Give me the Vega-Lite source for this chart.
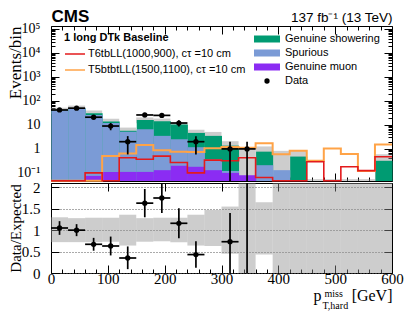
{
  "$schema": "https://vega.github.io/schema/vega-lite/v6.json",
  "padding": {"left": 5, "top": 6, "right": 0, "bottom": 0},
  "background": "white",
  "bounds": "flush",
  "spacing": 2,
  "config": {
    "view": {"stroke": "black", "strokeWidth": 1},
    "axis": {"domain": false, "grid": false, "labelFont": "Liberation Serif", "labelFontSize": 15, "labelColor": "black", "titleFont": "Liberation Serif", "titleFontSize": 15, "titleColor": "black", "titleFontWeight": "normal", "tickColor": "black", "tickWidth": 1, "labelFlush": false, "labelOverlap": false, "labelBound": false},
    "legend": {"labelFont": "Liberation Sans", "labelFontSize": 11, "labelColor": "black", "titleColor": "black"}
  },
  "datasets": {
    "bins": [
      {"lo": 0, "hi": 30, "c": 15, "N": 42, "dlo": 35.5, "dhi": 48.5, "band_lo": 28.8, "band_hi": 52, "r": 1.05, "rlo": 0.89, "rhi": 1.21, "rb_lo": 0.72, "rb_hi": 1.3},
      {"lo": 30, "hi": 60, "c": 45, "N": 50, "dlo": 42.9, "dhi": 57.1, "band_lo": 36, "band_hi": 64, "r": 1.0, "rlo": 0.86, "rhi": 1.14, "rb_lo": 0.72, "rb_hi": 1.28},
      {"lo": 60, "hi": 90, "c": 75, "N": 21, "dlo": 16.4, "dhi": 25.6, "band_lo": 22.3, "band_hi": 40, "r": 0.67, "rlo": 0.52, "rhi": 0.82, "rb_lo": 0.72, "rb_hi": 1.29},
      {"lo": 90, "hi": 120, "c": 105, "N": 9, "dlo": 6, "dhi": 12, "band_lo": 10.2, "band_hi": 18, "r": 0.63, "rlo": 0.41, "rhi": 0.85, "rb_lo": 0.73, "rb_hi": 1.29},
      {"lo": 120, "hi": 150, "c": 135, "N": 2, "dlo": 0.59, "dhi": 3.41, "band_lo": 3.65, "band_hi": 7.75, "r": 0.35, "rlo": 0.09, "rhi": 0.62, "rb_lo": 0.64, "rb_hi": 1.36},
      {"lo": 150, "hi": 180, "c": 165, "N": 26, "dlo": 20.9, "dhi": 31.1, "band_lo": 11.7, "band_hi": 20.5, "r": 1.63, "rlo": 1.3, "rhi": 1.96, "rb_lo": 0.73, "rb_hi": 1.28},
      {"lo": 180, "hi": 210, "c": 195, "N": 25, "dlo": 20, "dhi": 30, "band_lo": 10.6, "band_hi": 18.4, "r": 1.75, "rlo": 1.4, "rhi": 2.1, "rb_lo": 0.74, "rb_hi": 1.29},
      {"lo": 210, "hi": 240, "c": 225, "N": 12, "dlo": 8.5, "dhi": 15.5, "band_lo": 7.4, "band_hi": 13.3, "r": 1.16, "rlo": 0.81, "rhi": 1.51, "rb_lo": 0.72, "rb_hi": 1.29},
      {"lo": 240, "hi": 270, "c": 255, "N": 2, "dlo": 0.59, "dhi": 3.41, "band_lo": 3.0, "band_hi": 6.3, "r": 0.43, "rlo": 0.12, "rhi": 0.74, "rb_lo": 0.64, "rb_hi": 1.36},
      {"lo": 270, "hi": 300, "c": 285, "band_lo": 2.2, "band_hi": 5.1, "rb_lo": 0.63, "rb_hi": 1.47},
      {"lo": 300, "hi": 330, "c": 315, "N": 1, "dlo": 0.046, "dhi": 2, "band_lo": 0.62, "band_hi": 2.1, "r": 0.73, "rlo": 0, "rhi": 1.4, "rb_lo": 0.45, "rb_hi": 1.55},
      {"lo": 330, "hi": 360, "c": 345, "N": 1, "dlo": 0.046, "dhi": 2, "band_lo": 0.046, "band_hi": 1.1, "r": 12.5, "rlo": 0, "rhi": 25, "rb_lo": 0, "rb_hi": 3},
      {"lo": 360, "hi": 390, "c": 375, "band_lo": 0.33, "band_hi": 1.27, "rb_lo": 0.43, "rb_hi": 1.65},
      {"lo": 390, "hi": 420, "c": 405, "band_lo": 0.046, "band_hi": 0.83, "rb_lo": 0, "rb_hi": 3},
      {"lo": 420, "hi": 450, "c": 435, "band_lo": 0.046, "band_hi": 0.83, "rb_lo": 0, "rb_hi": 3},
      {"lo": 450, "hi": 480, "c": 465, "band_lo": 0.046, "band_hi": 0.055, "rb_lo": 0, "rb_hi": 3},
      {"lo": 480, "hi": 510, "c": 495, "band_lo": 0.046, "band_hi": 0.055, "rb_lo": 0, "rb_hi": 3},
      {"lo": 510, "hi": 540, "c": 525, "band_lo": 0.046, "band_hi": 0.055, "rb_lo": 0, "rb_hi": 3},
      {"lo": 540, "hi": 570, "c": 555, "band_lo": 0.046, "band_hi": 0.055, "rb_lo": 0, "rb_hi": 3},
      {"lo": 570, "hi": 600, "c": 585, "band_lo": 0.046, "band_hi": 0.6, "rb_lo": 0, "rb_hi": 3}
    ],
    "stack": [
      {"lo": 0, "hi": 30, "proc": "Spurious", "rank": 2, "n": 39.5},
      {"lo": 0, "hi": 30, "proc": "Genuine showering", "rank": 3, "n": 0.5},
      {"lo": 30, "hi": 60, "proc": "Spurious", "rank": 2, "n": 49.5},
      {"lo": 30, "hi": 60, "proc": "Genuine showering", "rank": 3, "n": 0.5},
      {"lo": 60, "hi": 90, "proc": "Genuine muon", "rank": 1, "n": 0.075},
      {"lo": 60, "hi": 90, "proc": "Spurious", "rank": 2, "n": 25.9},
      {"lo": 60, "hi": 90, "proc": "Genuine showering", "rank": 3, "n": 5},
      {"lo": 90, "hi": 120, "proc": "Genuine muon", "rank": 1, "n": 0.11},
      {"lo": 90, "hi": 120, "proc": "Spurious", "rank": 2, "n": 11.9},
      {"lo": 90, "hi": 120, "proc": "Genuine showering", "rank": 3, "n": 2},
      {"lo": 120, "hi": 150, "proc": "Genuine muon", "rank": 1, "n": 0.11},
      {"lo": 120, "hi": 150, "proc": "Spurious", "rank": 2, "n": 5.1},
      {"lo": 120, "hi": 150, "proc": "Genuine showering", "rank": 3, "n": 0.5},
      {"lo": 150, "hi": 180, "proc": "Genuine muon", "rank": 1, "n": 0.11},
      {"lo": 150, "hi": 180, "proc": "Spurious", "rank": 2, "n": 6.5},
      {"lo": 150, "hi": 180, "proc": "Genuine showering", "rank": 3, "n": 9.4},
      {"lo": 180, "hi": 210, "proc": "Genuine muon", "rank": 1, "n": 0.13},
      {"lo": 180, "hi": 210, "proc": "Spurious", "rank": 2, "n": 3.37},
      {"lo": 180, "hi": 210, "proc": "Genuine showering", "rank": 3, "n": 10.8},
      {"lo": 210, "hi": 240, "proc": "Genuine muon", "rank": 1, "n": 0.2},
      {"lo": 210, "hi": 240, "proc": "Spurious", "rank": 2, "n": 2.3},
      {"lo": 210, "hi": 240, "proc": "Genuine showering", "rank": 3, "n": 7.8},
      {"lo": 240, "hi": 270, "proc": "Genuine muon", "rank": 1, "n": 0.18},
      {"lo": 240, "hi": 270, "proc": "Spurious", "rank": 2, "n": 1.0},
      {"lo": 240, "hi": 270, "proc": "Genuine showering", "rank": 3, "n": 3.47},
      {"lo": 270, "hi": 300, "proc": "Genuine muon", "rank": 1, "n": 0.13},
      {"lo": 270, "hi": 300, "proc": "Spurious", "rank": 2, "n": 0.24},
      {"lo": 270, "hi": 300, "proc": "Genuine showering", "rank": 3, "n": 3.13},
      {"lo": 300, "hi": 330, "proc": "Genuine muon", "rank": 1, "n": 0.1},
      {"lo": 300, "hi": 330, "proc": "Spurious", "rank": 2, "n": 0.02},
      {"lo": 300, "hi": 330, "proc": "Genuine showering", "rank": 3, "n": 1.25},
      {"lo": 330, "hi": 360, "proc": "Genuine muon", "rank": 1, "n": 0.08},
      {"lo": 360, "hi": 390, "proc": "Spurious", "rank": 2, "n": 0.21},
      {"lo": 360, "hi": 390, "proc": "Genuine showering", "rank": 3, "n": 0.56},
      {"lo": 390, "hi": 420, "proc": "Spurious", "rank": 2, "n": 0.13},
      {"lo": 420, "hi": 450, "proc": "Genuine showering", "rank": 3, "n": 0.48},
      {"lo": 570, "hi": 600, "proc": "Genuine showering", "rank": 3, "n": 0.32}
    ],
    "lines": [
      {"x": 0, "s1": 0.047, "s2": 0.047},
      {"x": 30, "s1": 0.047, "s2": 0.047},
      {"x": 60, "s1": 0.1, "s2": 0.047},
      {"x": 90, "s1": 0.047, "s2": 0.51},
      {"x": 120, "s1": 0.43, "s2": 0.64},
      {"x": 150, "s1": 0.37, "s2": 1.47},
      {"x": 180, "s1": 0.5, "s2": 0.88},
      {"x": 210, "s1": 0.27, "s2": 0.77},
      {"x": 240, "s1": 0.1, "s2": 0.75},
      {"x": 270, "s1": 0.34, "s2": 1.07},
      {"x": 300, "s1": 0.32, "s2": 1.2},
      {"x": 330, "s1": 0.43, "s2": 1.13},
      {"x": 360, "s1": 0.064, "s2": 1.73},
      {"x": 390, "s1": 0.047, "s2": 0.6},
      {"x": 420, "s1": 0.047, "s2": 0.83},
      {"x": 450, "s1": 0.29, "s2": 0.32},
      {"x": 480, "s1": 0.047, "s2": 1.05},
      {"x": 510, "s1": 0.18, "s2": 0.62},
      {"x": 540, "s1": 0.125, "s2": 0.12},
      {"x": 570, "s1": 0.47, "s2": 1.52},
      {"x": 600, "s1": 0.47, "s2": 1.52}
    ]
  },
  "vconcat": [
    {
      "width": 341,
      "height": 155,
      "resolve": {"axis": {"x": "independent", "y": "independent"}},
      "layer": [
        {
          "data": {"name": "bins"},
          "mark": {"type": "rect", "fill": "#909090", "opacity": 0.45},
          "encoding": {
            "x": {"field": "lo", "type": "quantitative", "scale": {"domain": [0, 600], "nice": false, "zero": false}, "axis": {"orient": "bottom", "values": [0, 100, 200, 300, 400, 500, 600], "labels": false, "tickSize": -8, "title": null}},
            "x2": {"field": "hi"},
            "y": {"field": "band_lo", "type": "quantitative", "scale": {"type": "log", "domain": [0.046, 133000], "nice": false}, "axis": {"orient": "left", "values": [0.1, 1, 10, 100, 1000, 10000, 100000], "tickSize": -8, "labelPadding": 19, "labelFontSize": 14, "labelExpr": "datum.value < 0.5 ? '10⁻¹' : datum.value < 5 ? '1' : datum.value < 50 ? '10' : datum.value < 500 ? '10²' : datum.value < 5000 ? '10³' : datum.value < 50000 ? '10⁴' : '10⁵'", "title": "Events/bin", "titleFontSize": 17, "titleAnchor": "end", "titleX": -31, "titleBaseline": "alphabetic", "titleAngle": -90}},
            "y2": {"field": "band_hi"}
          }
        },
        {
          "data": {"name": "stack"},
          "transform": [{"stack": "n", "groupby": ["lo"], "sort": [{"field": "rank", "order": "ascending"}], "as": ["n0", "n1"]}, {"filter": {"field": "proc", "equal": "Genuine showering"}}],
          "mark": {"type": "bar", "binSpacing": 0},
          "encoding": {
            "x": {"field": "lo", "type": "quantitative", "bin": "binned", "scale": {"domain": [0, 600], "nice": false, "zero": false}, "axis": {"orient": "bottom", "values": [20, 40, 60, 80, 120, 140, 160, 180, 220, 240, 260, 280, 320, 340, 360, 380, 420, 440, 460, 480, 520, 540, 560, 580], "labels": false, "tickSize": -4, "title": null}},
            "x2": {"field": "hi"},
            "y": {"field": "n1", "type": "quantitative", "stack": null, "scale": {"type": "log", "domain": [0.046, 133000], "nice": false}, "axis": {"orient": "left", "values": [0.05, 0.06, 0.07, 0.08, 0.09, 0.2, 0.3, 0.4, 0.5, 0.6, 0.7, 0.8, 0.9, 2, 3, 4, 5, 6, 7, 8, 9, 20, 30, 40, 50, 60, 70, 80, 90, 200, 300, 400, 500, 600, 700, 800, 900, 2000, 3000, 4000, 5000, 6000, 7000, 8000, 9000, 20000, 30000, 40000, 50000, 60000, 70000, 80000, 90000], "labels": false, "tickSize": -4, "title": null}},
            "fill": {"field": "proc", "type": "nominal", "scale": {"domain": ["Genuine showering", "Spurious", "Genuine muon", "Data"], "range": ["#009b72", "#7b9bd6", "#8b2cf3", "black"]}, "legend": {"orient": "none", "legendX": 203, "legendY": 6, "title": null, "padding": 0, "symbolType": "M-1,-0.27H1V0.27H-1Z", "symbolSize": 676, "clipHeight": 14, "rowPadding": 0, "labelOffset": 5, "labelFont": "Liberation Sans", "labelFontSize": 11, "symbolStrokeWidth": 0, "symbolOpacity": 1, "encode": {"symbols": {"update": {"shape": {"signal": "datum.value === 'Data' ? 'circle' : 'M-1,-0.27H1V0.27H-1Z'"}, "size": {"signal": "datum.value === 'Data' ? 28 : 676"}}}}}}
          }
        },
        {
          "data": {"name": "stack"},
          "transform": [{"stack": "n", "groupby": ["lo"], "sort": [{"field": "rank", "order": "ascending"}], "as": ["n0", "n1"]}, {"filter": {"field": "proc", "equal": "Spurious"}}],
          "mark": {"type": "bar", "binSpacing": 0},
          "encoding": {
            "x": {"field": "lo", "type": "quantitative", "bin": "binned", "scale": {"domain": [0, 600], "nice": false, "zero": false}, "axis": {"orient": "top", "values": [0, 100, 200, 300, 400, 500, 600], "labels": false, "tickSize": -8, "title": "CMS", "titleFont": "Liberation Sans", "titleFontWeight": "bold", "titleFontSize": 17, "titleX": 0, "titleY": -5, "titleAlign": "left", "titleBaseline": "alphabetic"}},
            "x2": {"field": "hi"},
            "y": {"field": "n1", "type": "quantitative", "stack": null, "scale": {"type": "log", "domain": [0.046, 133000], "nice": false}, "axis": {"orient": "right", "values": [0.1, 1, 10, 100, 1000, 10000, 100000], "labels": false, "tickSize": -8, "title": null}},
            "fill": {"field": "proc", "type": "nominal", "scale": {"domain": ["Genuine showering", "Spurious", "Genuine muon", "Data"], "range": ["#009b72", "#7b9bd6", "#8b2cf3", "black"]}, "legend": {"orient": "none", "legendX": 203, "legendY": 6, "title": null, "padding": 0, "symbolType": "M-1,-0.27H1V0.27H-1Z", "symbolSize": 676, "clipHeight": 14, "rowPadding": 0, "labelOffset": 5, "labelFont": "Liberation Sans", "labelFontSize": 11, "symbolStrokeWidth": 0, "symbolOpacity": 1, "encode": {"symbols": {"update": {"shape": {"signal": "datum.value === 'Data' ? 'circle' : 'M-1,-0.27H1V0.27H-1Z'"}, "size": {"signal": "datum.value === 'Data' ? 28 : 676"}}}}}}
          }
        },
        {
          "data": {"name": "stack"},
          "transform": [{"stack": "n", "groupby": ["lo"], "sort": [{"field": "rank", "order": "ascending"}], "as": ["n0", "n1"]}, {"filter": {"field": "proc", "equal": "Genuine muon"}}],
          "mark": {"type": "bar", "binSpacing": 0},
          "encoding": {
            "x": {"field": "lo", "type": "quantitative", "bin": "binned", "scale": {"domain": [0, 600], "nice": false, "zero": false}, "axis": {"orient": "top", "values": [20, 40, 60, 80, 120, 140, 160, 180, 220, 240, 260, 280, 320, 340, 360, 380, 420, 440, 460, 480, 520, 540, 560, 580], "labels": false, "tickSize": -4, "title": "137 fb⁻¹ (13 TeV)", "titleFont": "Liberation Sans", "titleFontWeight": "normal", "titleFontSize": 13.5, "titleX": 341, "titleY": -5, "titleAlign": "right", "titleBaseline": "alphabetic"}},
            "x2": {"field": "hi"},
            "y": {"field": "n1", "type": "quantitative", "stack": null, "scale": {"type": "log", "domain": [0.046, 133000], "nice": false}, "axis": {"orient": "right", "values": [0.05, 0.06, 0.07, 0.08, 0.09, 0.2, 0.3, 0.4, 0.5, 0.6, 0.7, 0.8, 0.9, 2, 3, 4, 5, 6, 7, 8, 9, 20, 30, 40, 50, 60, 70, 80, 90, 200, 300, 400, 500, 600, 700, 800, 900, 2000, 3000, 4000, 5000, 6000, 7000, 8000, 9000, 20000, 30000, 40000, 50000, 60000, 70000, 80000, 90000], "labels": false, "tickSize": -4, "title": null}},
            "fill": {"field": "proc", "type": "nominal", "scale": {"domain": ["Genuine showering", "Spurious", "Genuine muon", "Data"], "range": ["#009b72", "#7b9bd6", "#8b2cf3", "black"]}, "legend": {"orient": "none", "legendX": 203, "legendY": 6, "title": null, "padding": 0, "symbolType": "M-1,-0.27H1V0.27H-1Z", "symbolSize": 676, "clipHeight": 14, "rowPadding": 0, "labelOffset": 5, "labelFont": "Liberation Sans", "labelFontSize": 11, "symbolStrokeWidth": 0, "symbolOpacity": 1, "encode": {"symbols": {"update": {"shape": {"signal": "datum.value === 'Data' ? 'circle' : 'M-1,-0.27H1V0.27H-1Z'"}, "size": {"signal": "datum.value === 'Data' ? 28 : 676"}}}}}}
          }
        },
        {
          "data": {"name": "lines"},
          "mark": {"type": "line", "interpolate": "step-after", "strokeWidth": 2},
          "encoding": {
            "x": {"field": "x", "type": "quantitative", "scale": {"domain": [0, 600], "nice": false, "zero": false}, "axis": null},
            "y": {"field": "s2", "type": "quantitative", "scale": {"type": "log", "domain": [0.046, 133000], "nice": false}, "axis": null},
            "stroke": {"datum": "T5btbtLL(1500,1100), cτ =10 cm", "type": "nominal", "scale": {"domain": ["T6tbLL(1000,900), cτ =10 cm", "T5btbtLL(1500,1100), cτ =10 cm"], "range": ["#e31a1c", "#ffa347"]}, "legend": {"orient": "none", "legendX": 13, "legendY": 6, "title": "1 long DTk Baseline", "titleFont": "Liberation Sans", "titleFontWeight": "bold", "titleFontSize": 11, "titlePadding": 3, "padding": 0, "symbolType": "stroke", "symbolSize": 400, "symbolStrokeWidth": 1.6, "clipHeight": 16, "rowPadding": 0, "labelOffset": 2, "labelFont": "Liberation Sans", "labelFontSize": 11}}
          }
        },
        {
          "data": {"name": "lines"},
          "mark": {"type": "line", "interpolate": "step-after", "strokeWidth": 1.6},
          "encoding": {
            "x": {"field": "x", "type": "quantitative", "scale": {"domain": [0, 600], "nice": false, "zero": false}, "axis": null},
            "y": {"field": "s1", "type": "quantitative", "scale": {"type": "log", "domain": [0.046, 133000], "nice": false}, "axis": null},
            "stroke": {"datum": "T6tbLL(1000,900), cτ =10 cm", "type": "nominal", "scale": {"domain": ["T6tbLL(1000,900), cτ =10 cm", "T5btbtLL(1500,1100), cτ =10 cm"], "range": ["#e31a1c", "#ffa347"]}, "legend": {"orient": "none", "legendX": 13, "legendY": 6, "title": "1 long DTk Baseline", "titleFont": "Liberation Sans", "titleFontWeight": "bold", "titleFontSize": 11, "titlePadding": 3, "padding": 0, "symbolType": "stroke", "symbolSize": 400, "symbolStrokeWidth": 1.6, "clipHeight": 16, "rowPadding": 0, "labelOffset": 2, "labelFont": "Liberation Sans", "labelFontSize": 11}}
          }
        },
        {
          "data": {"name": "bins"},
          "transform": [{"filter": "isValid(datum.N)"}],
          "mark": {"type": "rule", "color": "black", "strokeWidth": 1.7},
          "encoding": {
            "x": {"field": "c", "type": "quantitative", "scale": {"domain": [0, 600], "nice": false, "zero": false}, "axis": null},
            "y": {"field": "dlo", "type": "quantitative", "scale": {"type": "log", "domain": [0.046, 133000], "nice": false}, "axis": null},
            "y2": {"field": "dhi"}
          }
        },
        {
          "data": {"name": "bins"},
          "transform": [{"filter": "isValid(datum.N)"}],
          "mark": {"type": "rule", "color": "black", "strokeWidth": 1.7},
          "encoding": {
            "x": {"field": "lo", "type": "quantitative", "scale": {"domain": [0, 600], "nice": false, "zero": false}, "axis": null},
            "x2": {"field": "hi"},
            "y": {"field": "N", "type": "quantitative", "scale": {"type": "log", "domain": [0.046, 133000], "nice": false}, "axis": null}
          }
        },
        {
          "data": {"name": "bins"},
          "transform": [{"filter": "isValid(datum.N)"}],
          "mark": {"type": "point", "filled": true, "shape": "circle", "size": 28, "opacity": 1},
          "encoding": {
            "x": {"field": "c", "type": "quantitative", "scale": {"domain": [0, 600], "nice": false, "zero": false}, "axis": null},
            "y": {"field": "N", "type": "quantitative", "scale": {"type": "log", "domain": [0.046, 133000], "nice": false}, "axis": null},
            "fill": {"datum": "Data", "type": "nominal", "scale": {"domain": ["Genuine showering", "Spurious", "Genuine muon", "Data"], "range": ["#009b72", "#7b9bd6", "#8b2cf3", "black"]}, "legend": {"orient": "none", "legendX": 203, "legendY": 6, "title": null, "padding": 0, "symbolType": "M-1,-0.27H1V0.27H-1Z", "symbolSize": 676, "clipHeight": 14, "rowPadding": 0, "labelOffset": 5, "labelFont": "Liberation Sans", "labelFontSize": 11, "symbolStrokeWidth": 0, "symbolOpacity": 1, "encode": {"symbols": {"update": {"shape": {"signal": "datum.value === 'Data' ? 'circle' : 'M-1,-0.27H1V0.27H-1Z'"}, "size": {"signal": "datum.value === 'Data' ? 28 : 676"}}}}}}
          }
        }
      ]
    },
    {
      "width": 341,
      "height": 90,
      "resolve": {"axis": {"x": "independent", "y": "independent"}},
      "layer": [
        {
          "data": {"name": "bins"},
          "transform": [{"filter": "datum.rb_hi < 3"}],
          "mark": {"type": "rect", "fill": "#909090", "opacity": 0.45, "clip": true},
          "encoding": {
            "x": {"field": "lo", "type": "quantitative", "scale": {"domain": [0, 600], "nice": false, "zero": false}, "axis": {"orient": "bottom", "values": [0, 100, 200, 300, 400, 500, 600], "tickSize": -8, "labelPadding": 6, "labelFontSize": 15, "title": "[GeV]", "titleFontSize": 16, "titleX": 341, "titleY": 27, "titleAlign": "right", "titleBaseline": "alphabetic"}},
            "x2": {"field": "hi"},
            "y": {"field": "rb_lo", "type": "quantitative", "scale": {"domain": [0, 2.1], "nice": false, "zero": false}, "axis": {"orient": "left", "values": [0, 0.5, 1, 1.5, 2], "format": ".1~f", "tickSize": -8, "labelPadding": 19, "labelFontSize": 15, "grid": true, "gridDash": [1, 2], "gridColor": "#555555", "title": "Data/Expected", "titleFontSize": 15, "titleAnchor": "middle", "titleX": -31, "titleBaseline": "alphabetic", "titleAngle": -90}},
            "y2": {"field": "rb_hi"}
          }
        },
        {
          "data": {"name": "bins"},
          "transform": [{"filter": "datum.rb_hi >= 3"}],
          "mark": {"type": "rect", "fill": "#909090", "opacity": 0.45, "clip": true},
          "encoding": {
            "x": {"field": "lo", "type": "quantitative", "scale": {"domain": [0, 600], "nice": false, "zero": false}, "axis": {"orient": "bottom", "values": [20, 40, 60, 80, 120, 140, 160, 180, 220, 240, 260, 280, 320, 340, 360, 380, 420, 440, 460, 480, 520, 540, 560, 580], "labels": false, "tickSize": -4, "title": "p", "titleFontSize": 16, "titleX": 262, "titleY": 27, "titleAlign": "left", "titleBaseline": "alphabetic"}},
            "x2": {"field": "hi"},
            "y": {"field": "rb_lo", "type": "quantitative", "scale": {"domain": [0, 2.1], "nice": false, "zero": false}, "axis": {"orient": "right", "values": [0, 0.5, 1, 1.5, 2], "labels": false, "tickSize": -8, "title": null}},
            "y2": {"field": "rb_hi"}
          }
        },
        {
          "data": {"name": "bins"},
          "transform": [{"filter": "isValid(datum.r)"}],
          "mark": {"type": "rule", "color": "black", "strokeWidth": 1.7, "clip": true},
          "encoding": {
            "x": {"field": "c", "type": "quantitative", "scale": {"domain": [0, 600], "nice": false, "zero": false}, "axis": {"orient": "bottom", "labels": false, "ticks": false, "title": "miss", "titleFontSize": 10, "titleX": 273, "titleY": 23, "titleAlign": "left", "titleBaseline": "alphabetic"}},
            "y": {"field": "rlo", "type": "quantitative", "scale": {"domain": [0, 2.1], "nice": false, "zero": false}, "axis": null},
            "y2": {"field": "rhi"}
          }
        },
        {
          "data": {"name": "bins"},
          "transform": [{"filter": "isValid(datum.r)"}],
          "mark": {"type": "rule", "color": "black", "strokeWidth": 1.7, "clip": true},
          "encoding": {
            "x": {"field": "lo", "type": "quantitative", "scale": {"domain": [0, 600], "nice": false, "zero": false}, "axis": {"orient": "bottom", "labels": false, "ticks": false, "title": "T,hard", "titleFontSize": 10, "titleX": 271, "titleY": 35, "titleAlign": "left", "titleBaseline": "alphabetic"}},
            "x2": {"field": "hi"},
            "y": {"field": "r", "type": "quantitative", "scale": {"domain": [0, 2.1], "nice": false, "zero": false}, "axis": null}
          }
        },
        {
          "data": {"name": "bins"},
          "transform": [{"filter": "isValid(datum.r)"}],
          "mark": {"type": "point", "filled": true, "shape": "circle", "size": 28, "opacity": 1, "color": "black", "clip": true},
          "encoding": {
            "x": {"field": "c", "type": "quantitative", "scale": {"domain": [0, 600], "nice": false, "zero": false}, "axis": {"orient": "top", "values": [0, 100, 200, 300, 400, 500, 600], "labels": false, "tickSize": -8, "title": null}},
            "y": {"field": "r", "type": "quantitative", "scale": {"domain": [0, 2.1], "nice": false, "zero": false}, "axis": null}
          }
        }
      ]
    }
  ]
}
